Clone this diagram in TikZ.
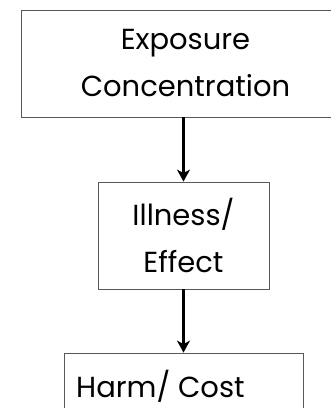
\documentclass[tikz,border=0pt]{standalone}
\usepackage{fontspec}
\setmainfont{Poppins}
\usetikzlibrary{arrows.meta}
\begin{document}
\begin{tikzpicture}[x=1pt, y=-1pt,
  stepbox/.style={draw=black!65, line width=0.8pt, rectangle, align=center, inner sep=0pt,
    font=\fontsize{29}{47}\selectfont},
  flow/.style={line width=3.4pt, -{Stealth[length=12pt, width=13pt, inset=3.5pt]}}]
  \useasboundingbox (0,0) rectangle (331,408);
  \clip (0,0) rectangle (331,408);
  \node[stepbox, minimum width=329pt, minimum height=107pt] (expo) at (185.5,63.5) {Exposure\\Concentration};
  \node[stepbox, minimum width=171pt, minimum height=107pt] (ill) at (183.5,235.5) {Illness/\\Effect};
  \node[stepbox, minimum width=239pt, minimum height=107pt] (harm) at (183.5,406.5) {};
  \node[anchor=base west, inner sep=0pt, font=\fontsize{29}{47}\selectfont] (harmtxt) at (76,397) {Harm/ Cost};
  \draw[flow] (ill.north |- expo.south) -- (ill.north);
  \draw[flow] (ill.south) -- (harm.north);
\end{tikzpicture}
\end{document}
